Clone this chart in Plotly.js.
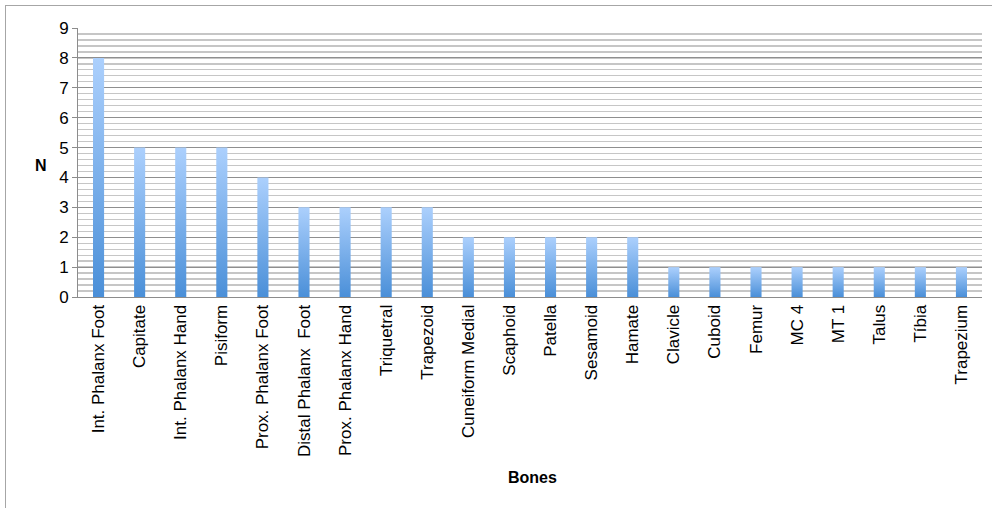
<!DOCTYPE html>
<html>
<head>
<meta charset="utf-8">
<script src="https://cdn.plot.ly/plotly-3.0.1.min.js"></script>
<style>
  html, body { margin: 0; padding: 0; background: #ffffff; }
  #wrap { position: relative; width: 992px; height: 508px; overflow: hidden; }
  #chart { width: 992px; height: 508px; }
  #frame {
    position: absolute; left: 5px; top: 5px; width: 1000px; height: 520px;
    border: 1px solid #a6a6a6; pointer-events: none; box-sizing: border-box;
  }
</style>
</head>
<body>
<div id="wrap">
  <div id="chart"></div>
  <div id="frame"></div>
</div>
<script>
// Bone counts
const bones = [
  "Int. Phalanx Foot", "Capitate", "Int. Phalanx Hand", "Pisiform",
  "Prox. Phalanx Foot", "Distal Phalanx  Foot", "Prox. Phalanx Hand",
  "Triquetral", "Trapezoid", "Cuneiform Medial", "Scaphoid", "Patella",
  "Sesamoid", "Hamate", "Clavicle", "Cuboid", "Femur", "MC 4", "MT 1",
  "Talus", "Tíbia", "Trapezium"
];
const counts = [8, 5, 5, 5, 4, 3, 3, 3, 3, 2, 2, 2, 2, 2, 1, 1, 1, 1, 1, 1, 1, 1];
const yTicks = [0, 1, 2, 3, 4, 5, 6, 7, 8, 9];
const xTitle = "Bones";
const yTitle = "N";

const trace = {
  type: "bar",
  x: bones,
  y: counts,
  marker: { color: "#78aeea", line: { width: 0 } },
  hoverinfo: "x+y"
};

const layout = {
  width: 992,
  height: 508,
  margin: { l: 78, r: 10, t: 28, b: 211 },
  paper_bgcolor: "#ffffff",
  plot_bgcolor: "#ffffff",
  font: { family: "Liberation Sans, Arial, sans-serif", color: "#000000", size: 17 },
  bargap: 0.73,
  showlegend: false,
  xaxis: {
    type: "category",
    tickangle: -90,
    tickfont: { size: 17 },
    showline: true,
    linecolor: "#8c8c8c",
    linewidth: 1,
    showgrid: false,
    ticks: "",
    automargin: false
  },
  yaxis: {
    range: [0, 9],
    tickvals: yTicks,
    ticktext: yTicks.map(String),
    ticks: "outside",
    ticklen: 5,
    tickcolor: "#8c8c8c",
    tickfont: { size: 17 },
    showline: true,
    linecolor: "#8c8c8c",
    linewidth: 1,
    showgrid: true,
    gridcolor: "#8f8f8f",
    gridwidth: 1,
    zeroline: false,
    minor: { dtick: 0.2, showgrid: true, gridcolor: "#c6c6c6", gridwidth: 1.3 },
    automargin: false
  },
  annotations: [
    {
      text: "<b>" + xTitle + "</b>", xref: "paper", yref: "paper",
      x: (532 - 78) / 904, y: -(478 - 297) / 269,
      xanchor: "center", yanchor: "middle", showarrow: false,
      font: { size: 16 }
    },
    {
      text: "<b>" + yTitle + "</b>", xref: "paper", yref: "paper",
      x: -(78 - 41) / 904, y: (297 - 165) / 269,
      xanchor: "center", yanchor: "middle", showarrow: false,
      font: { size: 16 }
    }
  ]
};

function applyBarGradient(gd) {
  const svg = gd.querySelector("svg.main-svg");
  if (!svg) return;
  const ns = "http://www.w3.org/2000/svg";
  let defs = svg.querySelector("defs");
  if (!defs) { defs = document.createElementNS(ns, "defs"); svg.insertBefore(defs, svg.firstChild); }
  if (!svg.querySelector("#barGrad")) {
    const grad = document.createElementNS(ns, "linearGradient");
    grad.setAttribute("id", "barGrad");
    grad.setAttribute("x1", "0"); grad.setAttribute("y1", "0");
    grad.setAttribute("x2", "0"); grad.setAttribute("y2", "1");
    [["0%", "#acd0fd"], ["100%", "#4a8fd8"]].forEach(function (s) {
      const stop = document.createElementNS(ns, "stop");
      stop.setAttribute("offset", s[0]);
      stop.setAttribute("stop-color", s[1]);
      grad.appendChild(stop);
    });
    defs.appendChild(grad);
  }
  gd.querySelectorAll(".barlayer .point path").forEach(function (p) {
    p.style.fill = "url(#barGrad)";
  });
}

const gd = document.getElementById("chart");
Plotly.newPlot(gd, [trace], layout, { displayModeBar: false, staticPlot: true })
  .then(function () { applyBarGradient(gd); });
</script>
</body>
</html>
